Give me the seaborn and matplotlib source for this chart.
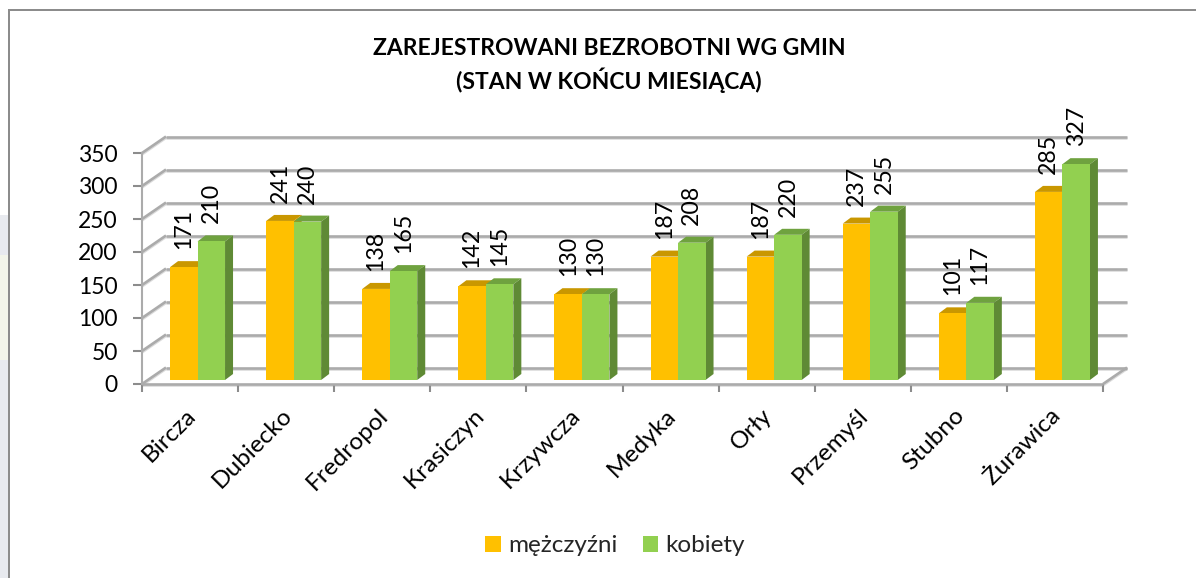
import pandas as pd
import matplotlib.pyplot as plt
import matplotlib.patheffects as pe
from matplotlib.patches import Polygon, Rectangle
from matplotlib.transforms import ScaledTranslation
import seaborn as sns

gminy = ['Bircza', 'Dubiecko', 'Fredropol', 'Krasiczyn', 'Krzywcza', 'Medyka', 'Orły', 'Przemyśl', 'Stubno', 'Żurawica']
mezczyzni = [171, 241, 138, 142, 130, 187, 187, 237, 101, 285]
kobiety = [210, 240, 165, 145, 130, 208, 220, 255, 117, 327]
y_ticks = [0, 50, 100, 150, 200, 250, 300, 350]
title = 'ZAREJESTROWANI BEZROBOTNI WG GMIN\n(STAN W KOŃCU MIESIĄCA)'

W, H = 1196, 578
colors = {'mężczyźni': '#FFC000', 'kobiety': '#92D050'}
tops = {'mężczyźni': '#C99700', 'kobiety': '#6FA23F'}
sides = {'mężczyźni': '#C99700', 'kobiety': '#5F8A35'}
grid_c = '#ABABAB'

sns.set_theme(style='white')
plt.rcParams['font.family'] = ['Lato', 'DejaVu Sans']

df = pd.DataFrame({'gmina': gminy * 2,
                   'plec': ['mężczyźni'] * 10 + ['kobiety'] * 10,
                   'liczba': mezczyzni + kobiety})

fig = plt.figure(figsize=(W / 100, H / 100), dpi=100, facecolor='white')


def px_axes(left, bottom, right, top):
    # pixel box of the reference -> figure fractions
    return fig.add_axes([left / W, 1 - bottom / H, (right - left) / W, (bottom - top) / H])


# front plane of the fake 3d box
ax = px_axes(142, 384, 1103, 153)
ax.set_xlim(-0.5, 9.5)
ax.set_ylim(0, 350)
px_x = 10 / 961
px_y = 350 / 231
back_x = 24 * px_x
back_y = 16.5 * px_y

shadow = [pe.SimpleLineShadow(offset=(0, -1), shadow_color='#888888', alpha=0.3), pe.Normal()]
line_kw = dict(color=grid_c, lw=1.9, clip_on=False, path_effects=shadow, solid_capstyle='butt')
for v in y_ticks:
    ax.plot([-0.5, -0.5 + back_x], [v, v + back_y], **line_kw)
    ax.plot([-0.5 + back_x, 9.5 + back_x], [v + back_y, v + back_y], **line_kw)
ax.plot([-0.5, 9.5], [0, 0], **line_kw)
ax.plot([9.5, 9.5 + back_x], [0, back_y], **line_kw)

for s in ['top', 'right', 'bottom']:
    ax.spines[s].set_visible(False)
ax.spines['left'].set_color(grid_c)
ax.spines['left'].set_linewidth(1.5)
ax.set_yticks(y_ticks)
ax.set_xticks(range(10))
ax.set_xticklabels(gminy, rotation=45, ha='right', rotation_mode='anchor', fontsize=17.6, color='black')
ax.set_xticks([i - 0.5 for i in range(11)], minor=True)
ax.tick_params(axis='x', which='major', length=0, pad=15)
ax.tick_params(axis='x', which='minor', length=6, width=1.5, color='#8C8C8C', bottom=True)
ax.tick_params(axis='y', length=6.5, width=1.5, color='#8C8C8C', left=True, pad=11, labelsize=16.5, labelcolor='black')
shift = ScaledTranslation(-5 / 100, 0, fig.dpi_scale_trans)
for lab in ax.get_xticklabels():
    lab.set_transform(lab.get_transform() + shift)

# bars stand a little inside the box
bars = px_axes(149.5, 380, 1110.5, 149)
bars.patch.set_visible(False)
sns.barplot(data=df, x='gmina', y='liczba', hue='plec', order=gminy, hue_order=list(colors),
            palette=colors, width=0.572, saturation=1, ax=bars, errorbar=None, zorder=3, linewidth=0)
bars.set_xlim(-0.5, 9.5)
bars.set_ylim(0, 350)
bars.set_xlabel('')
bars.set_ylabel('')

dx = 8 * px_x
dy = 6 * px_y
for cont, name in zip(bars.containers, colors):
    for b in cont:
        x0, w, h = b.get_x(), b.get_width(), b.get_height()
        bars.add_patch(Polygon([(x0, h), (x0 + dx, h + dy), (x0 + w + dx, h + dy), (x0 + w, h)],
                               fc=tops[name], ec='none', zorder=2, clip_on=False))
        bars.add_patch(Polygon([(x0 + w, 0), (x0 + w + dx, dy), (x0 + w + dx, h + dy), (x0 + w, h)],
                               fc=sides[name], ec='none', zorder=2, clip_on=False))
    bars.bar_label(cont, rotation=90, padding=13, fontsize=16.7, color='black', zorder=5)

sns.move_legend(bars, 'center', bbox_to_anchor=(615 / W, 1 - 546 / H), bbox_transform=fig.transFigure,
                ncol=2, title=None, frameon=False, fontsize=17.5, handlelength=0.62, handleheight=0.62,
                handletextpad=0.3, columnspacing=1.05)
bars.axis('off')

fig.text(609 / W, 1 - 65.5 / H, title, ha='center', va='center', fontsize=16.5, fontweight='bold',
         color='black', linespacing=1.4)

# page frame and the washed out background strip on the left
fig.add_artist(Rectangle((0, 0), 8 / W, 1 - 215 / H, transform=fig.transFigure, fc='#E8EAEF', ec='none'))
fig.add_artist(Rectangle((0, 1 - 360 / H), 8 / W, 105 / H, transform=fig.transFigure, fc='#F3F5EA', ec='none'))
fig.add_artist(Rectangle((8 / W, 0), 2 / W, 1 - 9 / H, transform=fig.transFigure, fc='#8C8C8C', ec='none'))
fig.add_artist(Rectangle((8 / W, 1 - 11 / H), 1 - 8 / W, 2 / H, transform=fig.transFigure, fc='#8C8C8C', ec='none'))

fig.savefig('out.png', dpi=100)
